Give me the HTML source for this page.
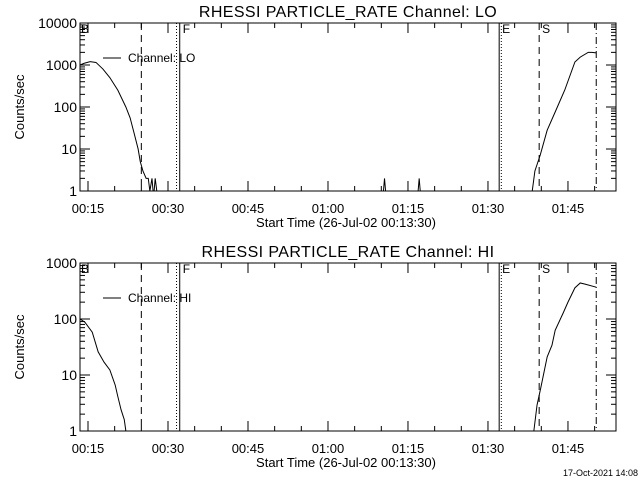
<!DOCTYPE html>
<html><head><meta charset="utf-8"><style>
body{margin:0;background:#fff}svg{display:block}
text{font-family:"Liberation Sans",sans-serif;fill:#000}
</style></head><body>
<svg id="c" width="640" height="480" xmlns="http://www.w3.org/2000/svg"></svg>
<script>
// time in minutes since 00:13:30
const tickLabels=["00:15","00:30","00:45","01:00","01:15","01:30","01:45"];
const tickMinutes=[1.5,16.5,31.5,46.5,61.5,76.5,91.5];
const loT1=[0,0.8,1.9,3,4.3,5.6,7.1,8.6,9.4,10.1,10.9,11.3,11.8,12.4,12.8,13.1,13.5,13.7,13.9,14.1,14.4,14.6];
const loV1=[1000,1100,1200,1150,800,500,250,100,55,25,10,5,3,2,2,1,2,1,1,2,1,1];
const loT2=[56.9,57.1,57.3,63.4,63.6,63.8];
const loV2=[1,2,1,1,2,1];
const loT3=[84.8,85.3,86.3,87.6,89.1,90.9,92.8,93.8,95.3,96,96.8];
const loV3=[1,3,7.2,28,76,254,1180,1540,2000,2000,1950];
const hiT1=[0,0.9,2.3,3.4,4.5,5.6,6.6,7.1,7.7,8.3,8.6];
const hiV1=[100,88,58,26,17,12.3,6.6,4.1,2.4,1.6,1];
const hiT2=[85.1,85.7,86.4,87.6,88.5,89.1,90.6,91.5,92.8,93.8,94.7,96.8];
const hiV2=[1,2.9,5.9,21,34,63,128,200,360,440,420,370];
const markerT=[11.5,18.1,18.7,78.6,79,86.1,96.8];
const markerStyle=["dash","dot","solid","solid","dot","dash","dashdot"];
const markerLbl=["","","F","E","","S",""];
const NS="http://www.w3.org/2000/svg";
const svg=document.getElementById('c');
function el(t,a,p){const e=document.createElementNS(NS,t);for(const k in a)e.setAttribute(k,a[k]);(p||svg).appendChild(e);return e;}
const X0=80,X1=616,PX=5.333;
const xs=t=>X0+t*PX;
function panel(name,top,bot,decades,ch,series){
  const g=el('g',{});
  
  
  const ppd=(bot-top)/decades;
  const ys=v=>bot-Math.log10(v)*ppd;
  const fr=el('rect',{x:X0,y:top,width:X1-X0,height:bot-top,fill:'none',stroke:'#000'},g);
  
  for(let d=0;d<=decades;d++){
    const y=bot-d*ppd;
    el('line',{x1:X0,x2:X0+10,y1:y,y2:y,stroke:'#000'},g);
    el('line',{x1:X1-10,x2:X1,y1:y,y2:y,stroke:'#000'},g);
    const t=el('text',{x:X0-3,y:y+5,'text-anchor':'end','font-size':14},g);t.textContent=String(Math.pow(10,d));
    
    if(d<decades)for(let m=2;m<10;m++){const yy=y-Math.log10(m)*ppd;
      el('line',{x1:X0,x2:X0+5,y1:yy,y2:yy,stroke:'#000'},g);el('line',{x1:X1-5,x2:X1,y1:yy,y2:yy,stroke:'#000'},g);}
  }
  for(let m=0;m<=100;m+=5){const x=xs(m+1.5);if(x>X1)break;const big=(m%15==0);
    el('line',{x1:x,x2:x,y1:bot,y2:bot-(big?10:5),stroke:'#000'},g);el('line',{x1:x,x2:x,y1:top,y2:top+(big?10:5),stroke:'#000'},g);}
  tickLabels.forEach((l,i)=>{const t=el('text',{x:xs(tickMinutes[i]),y:bot+22,'text-anchor':'middle','font-size':13},g);t.textContent=l;
    });
  const tt=el('text',{x:348,y:top-6,'text-anchor':'middle','font-size':16,'letter-spacing':'0.4'},g);tt.textContent='RHESSI PARTICLE_RATE Channel: '+ch;
  
  const xt=el('text',{x:346,y:bot+36,'text-anchor':'middle','font-size':13},g);xt.textContent='Start Time (26-Jul-02 00:13:30)';
  
  const yt=el('text',{x:0,y:0,'text-anchor':'middle','font-size':13,transform:`translate(24,${(top+bot)/2}) rotate(-90)`},g);yt.textContent='Counts/sec';
  
  const dash={dash:'7,5',dot:'1,2',solid:'',dashdot:'7,3,1,3'};
  markerT.forEach((t,i)=>{const x=xs(t);const l=el('line',{x1:x,x2:x,y1:top,y2:bot,stroke:'#000','stroke-dasharray':dash[markerStyle[i]]},g);
    
    if(markerLbl[i]){const tx=el('text',{x:x+3,y:top+10,'font-size':12},g);tx.textContent=markerLbl[i];
      }});
  const bl=el('text',{x:X0+1,y:top+10,'font-size':12},g);bl.textContent='B';
  
  series.forEach(([T,V])=>{const p=el('polyline',{points:T.map((t,i)=>xs(t)+','+ys(V[i])).join(' '),fill:'none',stroke:'#000'},g);
    });
  const ly=top+35;
  el('line',{x1:103,x2:121,y1:ly,y2:ly,stroke:'#000'},g);
  const lt=el('text',{x:128,y:ly+4,'font-size':12},g);lt.textContent='Channel: '+ch;
  
}
panel('lo',23,191,4,'LO',[[loT1,loV1],[loT2,loV2],[loT3,loV3]]);
panel('hi',263,431,3,'HI',[[hiT1,hiV1],[hiT2,hiV2]]);
const ts=el('text',{x:638,y:476,'text-anchor':'end','font-size':9});ts.textContent='17-Oct-2021 14:08';

</script></body></html>
